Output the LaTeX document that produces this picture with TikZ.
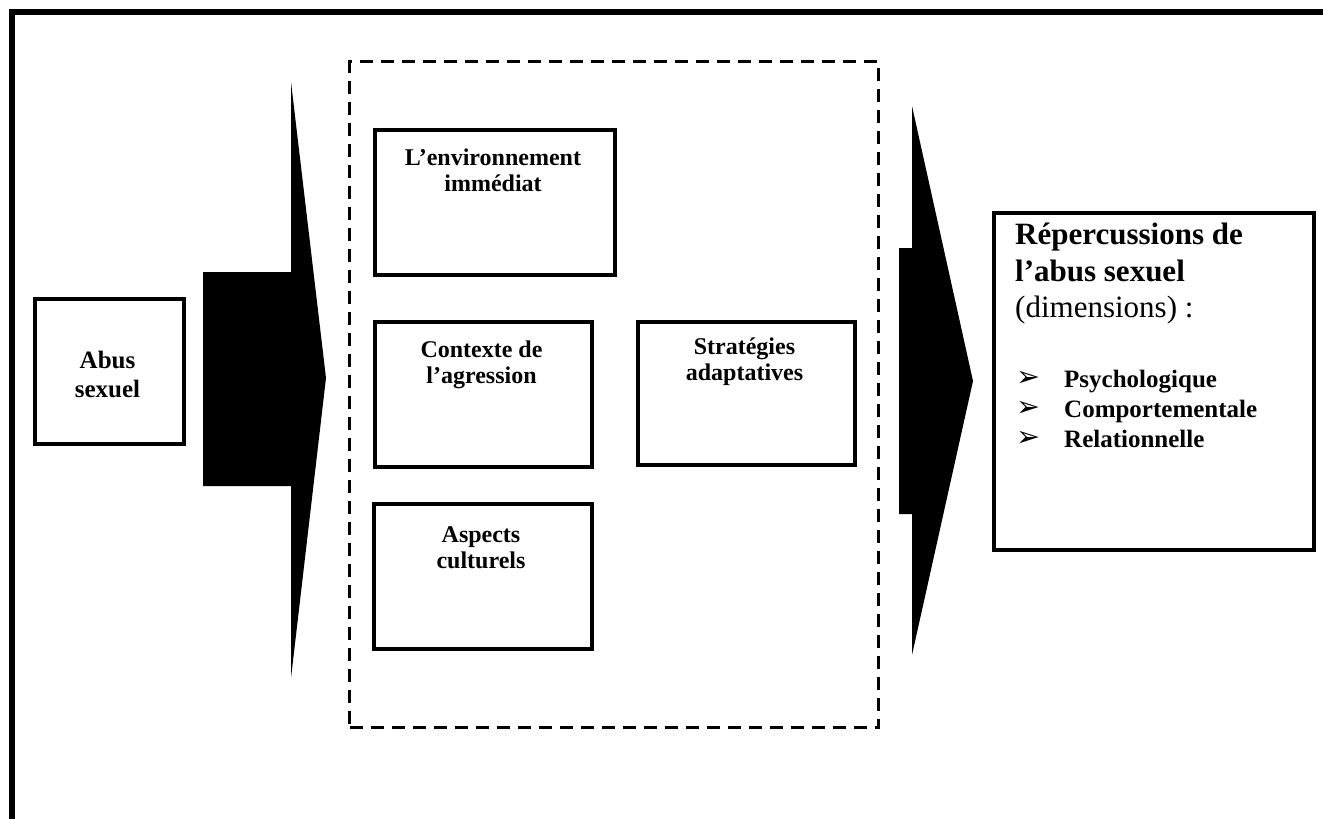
\documentclass[tikz,border=0pt]{standalone}
\usepackage{fontspec}
\setmainfont{Liberation Serif}
\newfontfamily\symfont{DejaVu Sans}
\begin{document}
\begin{tikzpicture}[x=1pt,y=-1pt,
  box/.style={draw, line width=4pt, inner sep=0pt, anchor=north west},
  txt/.style={font=\bfseries\fontsize{24}{27}\selectfont, inner sep=0pt, anchor=base},
  head/.style={font=\bfseries\fontsize{31}{34}\selectfont, inner sep=0pt, anchor=base west},
  item/.style={font=\bfseries\fontsize{25}{30}\selectfont, inner sep=0pt, anchor=base west},
  bul/.style={font=\symfont\fontsize{22}{26}\selectfont, inner sep=0pt, anchor=base west},
  bigarrow/.style={fill=black, draw=none}]
\useasboundingbox (0,0) rectangle (1323,819);
\fill[white] (0,0) rectangle (1323,819);
% outer frame (open at right and bottom)
\coordinate (fbl) at (12,819);
\coordinate (ftl) at (12,12);
\coordinate (ftr) at (1323,12);
\draw[line width=6pt] (fbl) -- (ftl) -- (ftr);
% dashed frame
\node[draw, line width=3pt, dash pattern=on 13pt off 8pt, inner sep=0pt, anchor=north west,
      minimum width=529pt, minimum height=666pt] (dash) at (348,60) {};
% left box
\node[box, minimum width=149pt, minimum height=145pt] (abus) at (33,297) {};
\node[txt, font=\bfseries\fontsize{25}{27}\selectfont] (abus1) at (107.5,368) {Abus};
\node[txt, font=\bfseries\fontsize{25}{27}\selectfont] (abus2) at (107.5,397) {sexuel};
% left arrow
\fill[bigarrow] (203,272) -- (291,272) -- (291,82) -- (326,378) -- (291,678) -- (291,486) -- (203,486) -- cycle;
% inner boxes
\node[box, minimum width=240pt, minimum height=145pt] (env) at (373,128) {};
\node[txt] (env1) at (493,165) {L’environnement};
\node[txt] (env2) at (493,191) {immédiat};
\node[box, minimum width=217pt, minimum height=145pt] (ctx) at (373,320) {};
\node[txt] (ctx1) at (481.5,357) {Contexte de};
\node[txt] (ctx2) at (481.5,383) {l’agression};
\node[box, minimum width=217pt, minimum height=143pt] (strat) at (636,320) {};
\node[txt] (strat1) at (744.5,354) {Stratégies};
\node[txt] (strat2) at (744.5,380) {adaptatives};
\node[box, minimum width=218pt, minimum height=145pt] (asp) at (372,502) {};
\node[txt] (asp1) at (481,542) {Aspects};
\node[txt] (asp2) at (481,568) {culturels};
% right arrow
\fill[bigarrow] (899,248) -- (912,248) -- (912,106) -- (973,381) -- (912,655) -- (912,514) -- (899,514) -- cycle;
% right box
\node[box, minimum width=320pt, minimum height=337pt] (rep) at (992,211) {};
\node[head] (rep1) at (1015,244) {Répercussions de};
\node[head] (rep2) at (1015,281) {l’abus sexuel};
\node[head, font=\fontsize{31}{34}\selectfont] (rep3) at (1015,317) {(dimensions) :};
\node[bul] (b1) at (1016,386) {\scalebox{1.3}{➢}};
\node[item] (i1) at (1064,387) {Psychologique};
\node[bul] (b2) at (1016,416) {\scalebox{1.3}{➢}};
\node[item] (i2) at (1064,417) {Comportementale};
\node[bul] (b3) at (1016,446) {\scalebox{1.3}{➢}};
\node[item] (i3) at (1064,447) {Relationnelle};
\end{tikzpicture}
\end{document}
